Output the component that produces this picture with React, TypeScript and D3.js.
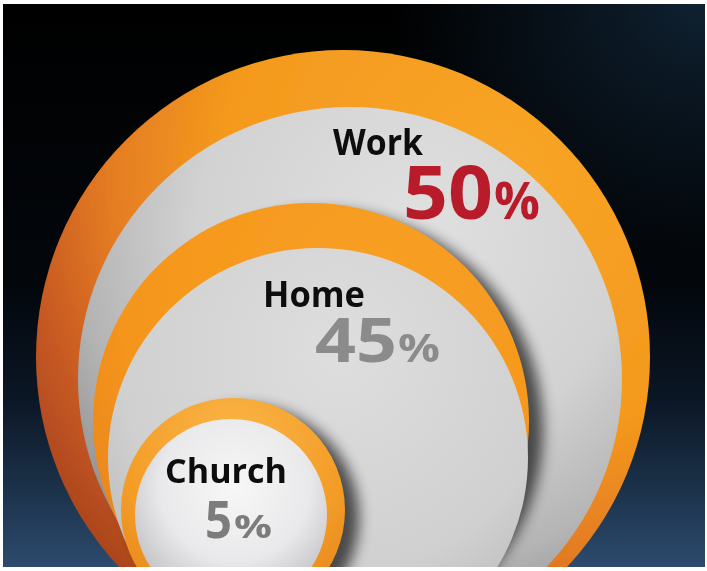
import { useEffect, useRef } from 'react';
import * as d3 from 'd3';

// chart data
const categories = ['Work', 'Home', 'Church'];
const shares = [50, 45, 5];
const valueColors = ['#b81f2c', '#8b8b8b', '#7c7c7c'];

// disc geometry (outer orange rim + inner grey face), per category
const rimDiscs = [
  { cx: 343, cy: 357, r: 307 },
  { cx: 311, cy: 421, r: 218 },
  { cx: 233, cy: 510, r: 112 },
];
const faceDiscs = [
  { cx: 350, cy: 379, r: 272 },
  { cx: 318, cy: 458, r: 210 },
  { cx: 231, cy: 515, r: 96 },
];

// label placement: [x, baseline, size, width]
const nameLabels = [
  [333, 155, 35, 90],
  [263, 307, 36, 102],
  [165, 483, 34, 122],
];
const numberLabels = [
  [403, 219, 74, 90],
  [315, 362, 60, 82],
  [205, 538, 52, 27],
];
const pctLabels = [
  [494, 219, 52, 46],
  [398, 362, 39, 42],
  [234, 538, 33, 38],
];

const W = 707;
const H = 571;
const frame = { x: 3, y: 4, w: 702, h: 563 };

export default function App() {
  const svgRef = useRef<SVGSVGElement>(null);

  useEffect(() => {
    if (!svgRef.current) return;
    const svg = d3.select(svgRef.current);
    svg.selectAll('*').remove();
    const defs = svg.append('defs');

    const addLinear = (id: string, x1: number, y1: number, x2: number, y2: number, stops: [number, string][]) => {
      const g = defs.append('linearGradient').attr('id', id)
        .attr('x1', x1).attr('y1', y1).attr('x2', x2).attr('y2', y2);
      stops.forEach(([o, c]) => g.append('stop').attr('offset', o).attr('stop-color', c));
    };
    const addRadial = (id: string, cx: number, cy: number, r: number, stops: [number, string, number?][]) => {
      const g = defs.append('radialGradient').attr('id', id)
        .attr('cx', cx).attr('cy', cy).attr('r', r);
      stops.forEach(([o, c, op]) =>
        g.append('stop').attr('offset', o).attr('stop-color', c).attr('stop-opacity', op ?? 1));
    };

    // background
    addLinear('bg', 0, 0, 0, 1, [[0, '#000000'], [0.5, '#03070c'], [0.7, '#0b1625'], [0.86, '#1b3149'], [1, '#2c4b6e']]);
    addRadial('glow', 1, 0, 0.45, [[0, '#0f2131', 1], [1, '#0f2131', 0]]);

    // rims
    addRadial('rim0', 0.75, 0.2, 0.9, [[0, '#f8a526'], [0.5, '#f4991e'], [0.7, '#e47c22'], [0.85, '#c85a22'], [1, '#a8421e']]);
    addRadial('rim1', 0.65, 0.2, 0.95, [[0, '#f8a024'], [0.6, '#f5961c'], [0.85, '#ea861e'], [1, '#d46c20']]);
    addRadial('rim2', 0.5, 0.2, 0.85, [[0, '#fbb648'], [0.6, '#f39c26'], [1, '#e4821e']]);

    // faces
    addRadial('face0', 0.62, 0.22, 0.8, [[0, '#e0e0e0'], [0.5, '#d2d2d2'], [0.78, '#b4b4b4'], [1, '#8a8a8a']]);
    addRadial('face1', 0.55, 0.25, 0.8, [[0, '#dedede'], [0.65, '#d0d0d0'], [1, '#b4b4b4']]);
    addRadial('face2', 0.52, 0.35, 0.65, [[0, '#f7f7f7'], [0.6, '#e9e9eb'], [1, '#bfbfc3']]);

    const blur = defs.append('filter').attr('id', 'shadow')
      .attr('x', '-20%').attr('y', '-20%').attr('width', '140%').attr('height', '140%');
    blur.append('feGaussianBlur').attr('stdDeviation', 7);

    const soft = defs.append('filter').attr('id', 'soft');
    soft.append('feGaussianBlur').attr('stdDeviation', 0.6);

    defs.append('clipPath').attr('id', 'frameClip')
      .append('rect').attr('x', frame.x).attr('y', frame.y).attr('width', frame.w).attr('height', frame.h);

    svg.append('rect')
      .attr('x', frame.x).attr('y', frame.y).attr('width', frame.w).attr('height', frame.h)
      .attr('fill', 'url(#bg)');
    svg.append('rect')
      .attr('x', frame.x).attr('y', frame.y).attr('width', frame.w).attr('height', frame.h)
      .attr('fill', 'url(#glow)');

    const g = svg.append('g').attr('clip-path', 'url(#frameClip)');

    categories.forEach((cat, i) => {
      const rim = rimDiscs[i];
      const face = faceDiscs[i];
      const disc = g.append('g').attr('class', `disc-${cat}`).attr('filter', 'url(#soft)');

      if (i > 0) {
        g.insert('circle', `.disc-${cat}`)
          .attr('cx', rim.cx + 14).attr('cy', rim.cy + 8).attr('r', rim.r)
          .attr('fill', '#000').attr('opacity', 0.65)
          .attr('filter', 'url(#shadow)');
      }
      disc.append('circle')
        .attr('cx', rim.cx).attr('cy', rim.cy).attr('r', rim.r)
        .attr('fill', `url(#rim${i})`);
      disc.append('circle')
        .attr('cx', face.cx).attr('cy', face.cy).attr('r', face.r)
        .attr('fill', `url(#face${i})`);
    });

    const font = '"Open Sans", "Noto Sans", sans-serif';
    const labels = svg.append('g').attr('font-family', font).attr('font-weight', 700).attr('filter', 'url(#soft)');

    categories.forEach((cat, i) => {
      const [nx, ny, ns, nw] = nameLabels[i];
      labels.append('text')
        .attr('x', nx).attr('y', ny).attr('font-size', ns)
        .attr('textLength', nw).attr('lengthAdjust', 'spacingAndGlyphs')
        .attr('fill', '#111').text(cat);

      const [vx, vy, vs, vw] = numberLabels[i];
      labels.append('text')
        .attr('x', vx).attr('y', vy).attr('font-size', vs)
        .attr('textLength', vw).attr('lengthAdjust', 'spacingAndGlyphs')
        .attr('fill', valueColors[i]).text(String(shares[i]));

      const [px, py, ps, pw] = pctLabels[i];
      labels.append('text')
        .attr('x', px).attr('y', py).attr('font-size', ps)
        .attr('textLength', pw).attr('lengthAdjust', 'spacingAndGlyphs')
        .attr('fill', valueColors[i]).text('%');
    });
  }, []);

  return (
    <svg
      ref={svgRef}
      width={W}
      height={H}
      style={{ position: 'absolute', left: 0, top: 0, background: '#fff' }}
    />
  );
}
